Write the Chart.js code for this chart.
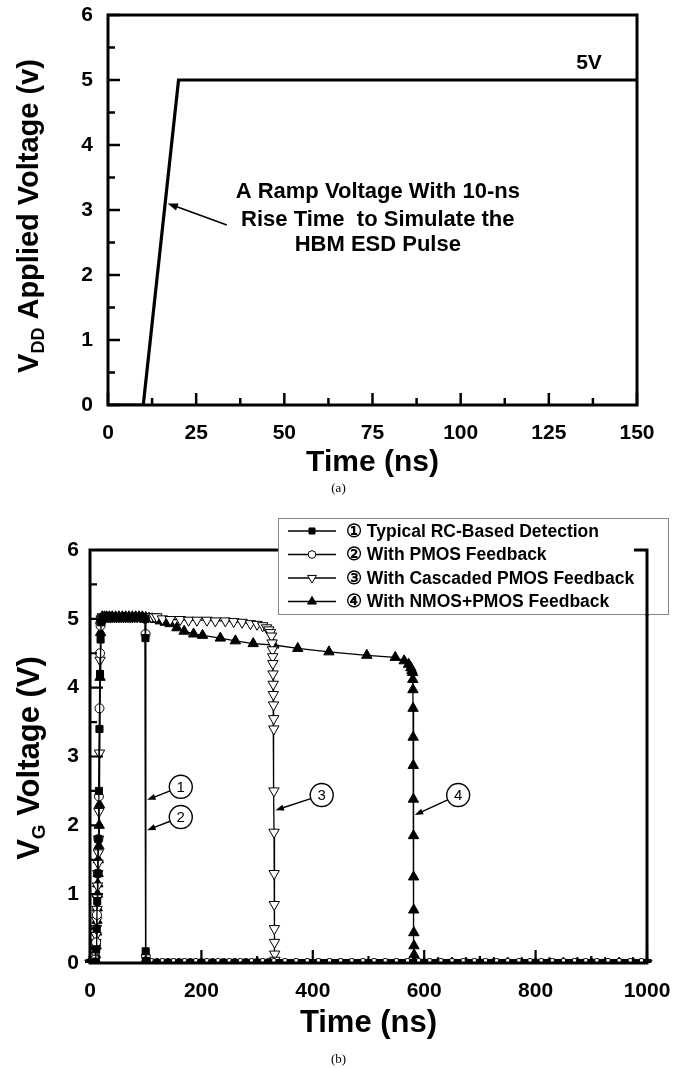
<!DOCTYPE html>
<html>
<head>
<meta charset="utf-8">
<script src="https://cdn.jsdelivr.net/npm/chart.js@4.4.1/dist/chart.umd.min.js"></script>
<style>
    html, body { margin: 0; padding: 0; background: #fff; }
    .panel { position: absolute; left: 0; width: 677px; }
    #panelA { top: 0; height: 500px; }
    #panelB { top: 500px; height: 568px; }
</style>
</head>
<body>
<div class="panel" id="panelA"><canvas id="rampChart" width="677" height="500"></canvas></div>
<div class="panel" id="panelB"><canvas id="gateChart" width="677" height="568"></canvas></div>
<script>
/* ===== (a) Rampa VDD ===== */
const rampTime = [0, 10, 20, 150];
const rampVolt = [0, 0, 5, 5];
const rampXMajor = [0, 25, 50, 75, 100, 125, 150];
const rampXMinor = [12.5, 37.5, 62.5, 87.5, 112.5, 137.5];
const rampYMajor = [0, 1, 2, 3, 4, 5, 6];
const rampYMinor = [0.5, 1.5, 2.5, 3.5, 4.5, 5.5];
const rampNote = ['A Ramp Voltage With 10-ns', 'Rise Time  to Simulate the', 'HBM ESD Pulse'];

/* ===== (b) Tensión VG ===== */
const gateXMajor = [0, 200, 400, 600, 800, 1000];
const gateXMinor = [100, 300, 500, 700, 900];
const gateYMajor = [0, 1, 2, 3, 4, 5, 6];
const gateYMinor = [0.5, 1.5, 2.5, 3.5, 4.5, 5.5];
const seriesLabels = [
    '\u2460 Typical RC-Based Detection',
    '\u2461 With PMOS Feedback',
    '\u2462 With Cascaded PMOS Feedback',
    '\u2463 With NMOS+PMOS Feedback'
];
const calloutLabels = ['1', '2', '3', '4'];

// 1: RC típico (cuadrado negro)
const rcTime = [0, 4, 8, 10, 11, 12, 13, 14, 15, 16, 17, 18, 19, 20, 22,
    25, 30, 35, 40, 45, 50, 55, 60, 65, 70, 75, 80, 85, 90, 95,
    99, 99.6, 100, 100.6, 102,
    120, 140, 160, 180, 200, 220, 240, 260, 280, 300, 320, 340, 360, 380, 400,
    420, 440, 460, 480, 500, 520, 540, 560, 580, 600, 620, 640, 660, 680, 700,
    720, 740, 760, 780, 800, 820, 840, 860, 880, 900, 920, 940, 960, 980, 1000];
const rcVolt = [0, 0, 0, 0.02, 0.2, 0.5, 0.9, 1.3, 1.8, 2.5, 3.4, 4.2, 4.7, 4.95, 5.0,
    5.02, 5.02, 5.02, 5.02, 5.02, 5.02, 5.02, 5.02, 5.02, 5.02, 5.02, 5.02, 5.02, 5.02, 5.02,
    5.0, 4.72, 0.17, 0.03, 0,
    0, 0, 0, 0, 0, 0, 0, 0, 0, 0, 0, 0, 0, 0, 0,
    0, 0, 0, 0, 0, 0, 0, 0, 0, 0, 0, 0, 0, 0, 0,
    0, 0, 0, 0, 0, 0, 0, 0, 0, 0, 0, 0, 0, 0, 0];

// 2: realimentación PMOS (círculo blanco)
const pmosTime = [0, 5, 9, 11, 12.5, 14, 15, 16, 17, 18, 19, 20,
    23, 27, 32, 38, 45, 52, 60, 68, 76, 84, 92,
    99, 99.8, 100.2, 101, 104,
    110, 120, 130, 140, 150, 160, 170, 180, 190, 200, 210, 220, 230, 240, 250, 260, 270, 280, 290, 300, 310, 320, 330,
    350, 370, 390, 410, 430, 450, 470, 490, 510, 530, 550, 570, 590, 610, 630, 650, 670,
    690, 710, 730, 750, 770, 790, 810, 830, 850, 870, 890, 910, 930, 950, 970, 990];
const pmosVolt = [0, 0, 0.05, 0.3, 0.7, 1.3, 1.8, 2.42, 3.7, 4.5, 4.9, 5.0,
    5.02, 5.02, 5.02, 5.02, 5.02, 5.02, 5.02, 5.02, 5.02, 5.02, 5.02,
    5.0, 4.78, 0.1, 0.02, 0,
    0, 0, 0, 0, 0, 0, 0, 0, 0, 0, 0, 0, 0, 0, 0, 0, 0, 0, 0, 0, 0, 0, 0,
    0, 0, 0, 0, 0, 0, 0, 0, 0, 0, 0, 0, 0, 0, 0, 0, 0,
    0, 0, 0, 0, 0, 0, 0, 0, 0, 0, 0, 0, 0, 0, 0, 0];

// 3: PMOS en cascada (triángulo invertido blanco)
const cascTime = [0, 2, 4, 6, 7, 8, 9, 10, 10.5, 11, 11.5, 12, 12.5, 13, 13.5, 14, 14.5, 15, 15.5, 16, 17, 18, 19, 20,
    22, 25, 28, 31, 34, 37, 40, 44, 48, 52, 56, 60, 64, 68, 72, 76, 80, 85, 90, 95, 100, 105, 110, 115, 120,
    130, 144, 162, 177, 192, 210, 225, 243, 258, 273, 288, 300, 310, 317, 321, 324, 326,
    327, 327.5, 328, 328.3, 328.6, 328.9, 329.2, 329.5, 329.8, 330, 330.2, 330.4, 330.6, 330.8, 331, 331.3, 331.6, 332, 333,
    340, 360, 380, 400, 420, 440, 460, 480, 500, 520, 540, 560, 580, 600, 620, 640, 660,
    680, 700, 720, 740, 760, 780, 800, 820, 840, 860, 880, 900, 920, 940, 960, 980, 1000];
const cascVolt = [0, 0, 0, 0.02, 0.05, 0.1, 0.15, 0.22, 0.3, 0.4, 0.5, 0.62, 0.78, 0.95, 1.12, 1.3, 1.45, 1.6, 1.8, 2.2, 3.05, 4.4, 4.9, 5.0,
    5.03, 5.03, 5.03, 5.03, 5.03, 5.03, 5.03, 5.03, 5.03, 5.03, 5.03, 5.03, 5.03, 5.03, 5.03, 5.03, 5.03, 5.03, 5.03, 5.03, 5.03, 5.03, 5.03, 5.03, 5.03,
    5.0, 4.99, 4.99, 4.98, 4.98, 4.98, 4.97, 4.97, 4.96, 4.95, 4.93, 4.92, 4.9, 4.87, 4.84, 4.8, 4.75,
    4.65, 4.55, 4.45, 4.35, 4.2, 4.05, 3.9, 3.75, 3.55, 3.4, 2.5, 1.9, 1.3, 0.85, 0.5, 0.3, 0.13, 0.04, 0,
    0, 0, 0, 0, 0, 0, 0, 0, 0, 0, 0, 0, 0, 0, 0, 0, 0,
    0, 0, 0, 0, 0, 0, 0, 0, 0, 0, 0, 0, 0, 0, 0, 0, 0];

// 4: NMOS+PMOS (triángulo negro)
const nmosTime = [0, 3, 6, 8, 9, 10, 11, 12, 12.5, 13, 13.5, 14, 14.5, 15, 16, 16.5, 17, 18, 19, 20,
    22, 26, 30, 35, 40, 46, 52, 58, 64, 70, 76, 82, 88, 94, 100, 106, 112, 118,
    126, 135, 144, 156, 169, 186, 202, 234, 261, 293, 330, 373, 429, 497, 548, 564, 572, 576, 578, 579,
    579.5, 579.8, 580, 580.2, 580.4, 580.6, 580.8, 581, 581.2, 581.4, 581.6, 581.8, 582, 583,
    600, 625, 650, 675, 700, 725, 750, 775, 800, 825, 850, 875, 900, 925, 950, 975, 1000];
const nmosVolt = [0, 0, 0, 0.02, 0.06, 0.12, 0.25, 0.45, 0.62, 0.8, 1.0, 1.15, 1.3, 1.5, 1.7, 2.0, 2.3, 4.15, 4.8, 5.0,
    5.03, 5.03, 5.03, 5.03, 5.03, 5.03, 5.03, 5.03, 5.03, 5.03, 5.03, 5.03, 5.03, 5.03, 5.02, 5.01, 5.0, 4.99,
    4.97, 4.95, 4.93, 4.87, 4.82, 4.78, 4.76, 4.72, 4.68, 4.64, 4.62, 4.57, 4.52, 4.47, 4.44, 4.39, 4.34, 4.29, 4.25, 4.22,
    4.12, 3.97, 3.7, 3.28, 2.87, 2.38, 1.85, 1.25, 0.77, 0.44, 0.25, 0.12, 0.02, 0,
    0, 0, 0, 0, 0, 0, 0, 0, 0, 0, 0, 0, 0, 0, 0, 0, 0];

const FONT = "'Liberation Sans', Arial, Helvetica, sans-serif";
Chart.defaults.font.family = FONT;
Chart.defaults.color = '#000';

function toPoints(xs, ys) {
    return xs.map((x, i) => ({ x: x, y: ys[i] }));
}

// Flecha con punta rellena
function drawArrow(ctx, x1, y1, x2, y2, head) {
    const ang = Math.atan2(y2 - y1, x2 - x1);
    ctx.beginPath();
    ctx.moveTo(x1, y1);
    ctx.lineTo(x2 - Math.cos(ang) * head * 0.7, y2 - Math.sin(ang) * head * 0.7);
    ctx.stroke();
    ctx.beginPath();
    ctx.moveTo(x2, y2);
    ctx.lineTo(x2 - head * Math.cos(ang - 0.35), y2 - head * Math.sin(ang - 0.35));
    ctx.lineTo(x2 - head * Math.cos(ang + 0.35), y2 - head * Math.sin(ang + 0.35));
    ctx.closePath();
    ctx.fill();
}

// Título vertical con subíndice (V_DD, V_G)
function drawSubTitle(ctx, x, yMid, main, sub, rest, size) {
    const big = 'bold ' + size + 'px ' + FONT;
    const small = 'bold ' + Math.round(size * 0.62) + 'px ' + FONT;
    ctx.save();
    ctx.translate(x, yMid);
    ctx.rotate(-Math.PI / 2);
    ctx.fillStyle = '#000';
    ctx.textBaseline = 'middle';
    ctx.textAlign = 'left';
    ctx.font = big; const w1 = ctx.measureText(main).width; const w3 = ctx.measureText(rest).width;
    ctx.font = small; const w2 = ctx.measureText(sub).width;
    let cx = -(w1 + w2 + w3) / 2;
    ctx.font = big; ctx.fillText(main, cx, 0); cx += w1;
    ctx.font = small; ctx.fillText(sub, cx, size * 0.32); cx += w2;
    ctx.font = big; ctx.fillText(rest, cx, 0);
    ctx.restore();
}

// Marco del área y marcas hacia dentro
const frameTicks = {
    id: 'frameTicks',
    afterDatasetsDraw(chart, args, o) {
        const { ctx, chartArea: a, scales: { x, y } } = chart;
        ctx.save();
        ctx.strokeStyle = '#000';
        ctx.lineWidth = o.tickWidth;
        ctx.beginPath();
        o.xMajor.forEach(v => { const p = x.getPixelForValue(v); ctx.moveTo(p, a.bottom); ctx.lineTo(p, a.bottom - o.major); });
        o.xMinor.forEach(v => { const p = x.getPixelForValue(v); ctx.moveTo(p, a.bottom); ctx.lineTo(p, a.bottom - o.minor); });
        o.yMajor.forEach(v => { const p = y.getPixelForValue(v); ctx.moveTo(a.left, p); ctx.lineTo(a.left + o.major, p); });
        o.yMinor.forEach(v => { const p = y.getPixelForValue(v); ctx.moveTo(a.left, p); ctx.lineTo(a.left + o.minor, p); });
        ctx.stroke();
        ctx.lineWidth = o.frameWidth;
        ctx.strokeRect(a.left, a.top, a.width, a.height);
        ctx.restore();
    }
};

// Eje lineal sin rejilla; el tamaño de la caja se fija en afterFit
function axisCommon(min, max, step, pad, fit) {
    return {
        type: 'linear', min: min, max: max,
        ticks: { stepSize: step, padding: pad, color: '#000', font: { size: 21, weight: 'bold' }, callback: v => String(v) },
        grid: { display: false, drawTicks: false },
        border: { display: false },
        afterFit: s => {
            fit(s);
            s.paddingTop = 0; s.paddingBottom = 0; s.paddingLeft = 0; s.paddingRight = 0;
        }
    };
}

/* ---------- Gráfico (a) ---------- */
const rampX = axisCommon(0, 150, 25, 16, s => { s.height = 78; });
rampX.title = { display: true, text: 'Time (ns)', color: '#000', font: { size: 30, weight: 'bold' }, padding: { top: 0, bottom: 2 } };

new Chart(document.getElementById('rampChart'), {
    type: 'scatter',
    data: {
        datasets: [{
            data: toPoints(rampTime, rampVolt),
            showLine: true,
            borderColor: '#000',
            borderWidth: 3.2,
            pointRadius: 0,
            tension: 0
        }]
    },
    options: {
        responsive: false,
        animation: false,
        events: [],
        layout: { padding: { top: 15, right: 40, bottom: 17, left: 0 } },
        plugins: {
            legend: { display: false },
            tooltip: { enabled: false },
            frameTicks: { xMajor: rampXMajor, xMinor: rampXMinor, yMajor: rampYMajor, yMinor: rampYMinor, major: 12, minor: 7, tickWidth: 2.5, frameWidth: 3 }
        },
        scales: {
            x: rampX,
            y: axisCommon(0, 6, 1, 15, s => { s.width = 108; })
        }
    },
    plugins: [frameTicks, {
        id: 'rampNotes',
        afterDraw(chart) {
            const { ctx, scales: { x, y } } = chart;
            ctx.save();
            ctx.fillStyle = '#000';
            ctx.strokeStyle = '#000';
            ctx.textAlign = 'center';
            ctx.textBaseline = 'middle';
            ctx.font = 'bold 21px ' + FONT;
            ctx.fillText('5V', x.getPixelForValue(136.4), y.getPixelForValue(5.26));
            ctx.font = 'bold 22px ' + FONT;
            const lineV = [3.28, 2.85, 2.46];
            rampNote.forEach((t, i) => ctx.fillText(t, x.getPixelForValue(76.5), y.getPixelForValue(lineV[i])));
            ctx.lineWidth = 1.6;
            drawArrow(ctx, x.getPixelForValue(33.7), y.getPixelForValue(2.77), x.getPixelForValue(16.9), y.getPixelForValue(3.1), 11);
            drawSubTitle(ctx, 30, 216, 'V', 'DD', ' Applied Voltage (v)', 29);
            ctx.font = '13px "Liberation Serif", "Times New Roman", serif';
            ctx.fillText('(a)', chart.width / 2, 489);
            ctx.restore();
        }
    }]
});

/* ---------- Gráfico (b) ---------- */
const gateX = axisCommon(0, 1000, 200, 16, s => { s.height = 84; });
gateX.title = { display: true, text: 'Time (ns)', color: '#000', font: { size: 31, weight: 'bold' }, padding: { top: 0, bottom: 5 } };

const seriesStyle = [
    { pointStyle: 'rect', radius: 5, fill: '#000', rotation: 0 },
    { pointStyle: 'circle', radius: 4.5, fill: '#fff', rotation: 0 },
    { pointStyle: 'triangle', radius: 6, fill: '#fff', rotation: 180 },
    { pointStyle: 'triangle', radius: 6, fill: '#000', rotation: 0 }
];
const seriesData = [
    toPoints(rcTime, rcVolt),
    toPoints(pmosTime, pmosVolt),
    toPoints(cascTime, cascVolt),
    toPoints(nmosTime, nmosVolt)
];

new Chart(document.getElementById('gateChart'), {
    type: 'scatter',
    data: {
        datasets: seriesData.map((pts, i) => ({
            label: seriesLabels[i],
            data: pts,
            showLine: true,
            borderColor: '#000',
            borderWidth: 1.3,
            tension: 0,
            pointStyle: seriesStyle[i].pointStyle,
            pointRadius: seriesStyle[i].radius,
            pointRotation: seriesStyle[i].rotation,
            pointBackgroundColor: seriesStyle[i].fill,
            pointBorderColor: '#000',
            pointBorderWidth: 1,
            clip: { left: 8, top: 8, right: 8, bottom: 0 }
        }))
    },
    options: {
        responsive: false,
        animation: false,
        events: [],
        layout: { padding: { top: 50, right: 30, bottom: 21, left: 0 } },
        plugins: {
            legend: { display: false },
            tooltip: { enabled: false },
            frameTicks: { xMajor: gateXMajor, xMinor: gateXMinor, yMajor: gateYMajor, yMinor: gateYMinor, major: 13, minor: 7, tickWidth: 2.2, frameWidth: 3 }
        },
        scales: {
            x: gateX,
            y: axisCommon(0, 6, 1, 11, s => { s.width = 90; })
        }
    },
    plugins: [frameTicks, {
        id: 'gateNotes',
        afterDraw(chart) {
            const { ctx, chartArea: a, scales: { x, y } } = chart;
            ctx.save();
            ctx.fillStyle = '#000';
            ctx.strokeStyle = '#000';

            // llamadas numeradas con flecha
            const callouts = [
                { cx: 163, cy: 2.56, tx: 102.5, ty: 2.37 },
                { cx: 163, cy: 2.12, tx: 102.5, ty: 1.93 },
                { cx: 416, cy: 2.44, tx: 333, ty: 2.22 },
                { cx: 661, cy: 2.44, tx: 583, ty: 2.15 }
            ];
            callouts.forEach((c, i) => {
                const px = x.getPixelForValue(c.cx), py = y.getPixelForValue(c.cy);
                const tx = x.getPixelForValue(c.tx), ty = y.getPixelForValue(c.ty);
                const r = 11.5;
                const ang = Math.atan2(ty - py, tx - px);
                ctx.lineWidth = 1.4;
                drawArrow(ctx, px + r * Math.cos(ang), py + r * Math.sin(ang), tx, ty, 9);
                ctx.beginPath();
                ctx.arc(px, py, r, 0, Math.PI * 2);
                ctx.fillStyle = '#fff';
                ctx.fill();
                ctx.stroke();
                ctx.fillStyle = '#000';
                ctx.font = '15px ' + FONT;
                ctx.textAlign = 'center';
                ctx.textBaseline = 'middle';
                ctx.fillText(calloutLabels[i], px, py + 1);
            });

            // leyenda con recuadro
            const box = { l: 278, t: 18, r: 668, b: 114 };
            ctx.fillStyle = '#fff';
            ctx.fillRect(box.l, box.t, box.r - box.l, box.b - box.t);
            ctx.lineWidth = 1;
            ctx.strokeStyle = '#888';
            ctx.strokeRect(box.l + 0.5, box.t + 0.5, box.r - box.l, box.b - box.t);
            const rowY = [31, 54.5, 78, 101.5];
            ctx.strokeStyle = '#000';
            seriesLabels.forEach((lab, i) => {
                const yy = rowY[i];
                ctx.lineWidth = 1.3;
                ctx.beginPath();
                ctx.moveTo(288, yy);
                ctx.lineTo(336, yy);
                ctx.stroke();
                const st = seriesStyle[i];
                ctx.fillStyle = st.fill;
                ctx.lineWidth = 1;
                Chart.helpers.drawPoint(ctx, { pointStyle: st.pointStyle, radius: st.radius * 0.85, rotation: st.rotation, borderWidth: 1 }, 312, yy);
                ctx.fillStyle = '#000';
                ctx.font = 'bold 17.5px ' + FONT;
                ctx.textAlign = 'left';
                ctx.textBaseline = 'middle';
                ctx.fillText(lab, 346, yy + 1);
            });

            // esquina del marco visible a la derecha del texto
            ctx.strokeStyle = '#000';
            ctx.lineWidth = 3;
            ctx.beginPath();
            ctx.moveTo(634, a.top);
            ctx.lineTo(a.right, a.top);
            ctx.lineTo(a.right, box.b + 2);
            ctx.stroke();

            drawSubTitle(ctx, 30, 258, 'V', 'G', ' Voltage (V)', 31);
            ctx.font = '13px "Liberation Serif", "Times New Roman", serif';
            ctx.fillStyle = '#000';
            ctx.textAlign = 'center';
            ctx.textBaseline = 'middle';
            ctx.fillText('(b)', chart.width / 2, 560);
            ctx.restore();
        }
    }]
});
</script>
</body>
</html>
